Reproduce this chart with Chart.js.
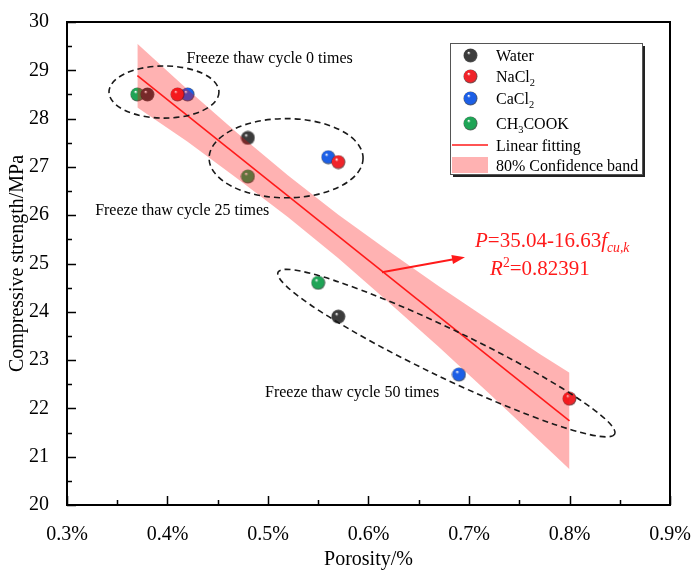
<!DOCTYPE html>
<html lang="en">
<head>
<meta charset="UTF-8">
<title>Compressive strength vs porosity</title>
<script src="https://cdn.jsdelivr.net/npm/chart.js"></script>
<style>
    body { margin: 0; background: #fff; }
    #box { width: 692px; height: 571px; }
</style>
</head>
<body>
<div id="box"><canvas id="chart" width="692" height="571"></canvas></div>
<script>
// measured values (porosity in %, strength in MPa)
const waterX = [0.38, 0.48, 0.57];
const waterY = [28.5, 27.6, 23.9];
const naclX = [0.41, 0.57, 0.80];
const naclY = [28.5, 27.1, 22.2];
const cacl2X = [0.42, 0.56, 0.69];
const cacl2Y = [28.5, 27.2, 22.7];
const ch3cookX = [0.37, 0.48, 0.55];
const ch3cookY = [28.5, 26.8, 24.6];

// linear fit and 80% confidence band
const fitX = [0.37, 0.80];
const fitY = [28.89, 21.74];
const bandX = [0.37, 0.42, 0.47, 0.52, 0.57, 0.62, 0.67, 0.72, 0.77, 0.80];
const bandUpper = [29.55, 28.60, 27.69, 26.82, 26.01, 25.26, 24.53, 23.83, 23.13, 22.74];
const bandLower = [28.23, 27.52, 26.75, 25.96, 25.11, 24.20, 23.27, 22.31, 21.33, 20.74];

const seriesColors = ['#3c3c3c', '#f0242a', '#1c5fe6', '#1fa456'];

const SERIF = "'Liberation Serif', 'Times New Roman', serif";
Chart.defaults.font.family = SERIF;
Chart.defaults.color = '#000';

function pts(xs, ys) { return xs.map((x, i) => ({ x: x, y: ys[i] })); }

// small shaded sphere used as marker
function sphere(color) {
    const c = document.createElement('canvas');
    c.width = 15; c.height = 15;
    const g = c.getContext('2d');
    const grad = g.createRadialGradient(5.5, 4.5, 0.3, 7.5, 7.5, 7.2);
    grad.addColorStop(0, '#ffffff');
    grad.addColorStop(0.22, color);
    grad.addColorStop(0.8, color);
    grad.addColorStop(1, 'rgba(0,0,0,0.6)');
    g.fillStyle = grad;
    g.beginPath(); g.arc(7.5, 7.5, 7, 0, Math.PI * 2); g.fill();
    return c;
}
const sphereImgs = seriesColors.map(sphere);

function scatterSet(label, xs, ys, i) {
    return {
        label: label, data: pts(xs, ys), order: 10,
        pointStyle: sphereImgs[i], pointRadius: 7,
        backgroundColor: seriesColors[i], borderColor: seriesColors[i]
    };
}

// draw text made of parts {t, it, sub, sup}
function richText(ctx, x, y, parts, size, color) {
    ctx.fillStyle = color;
    ctx.textBaseline = 'alphabetic';
    ctx.textAlign = 'left';
    parts.forEach(p => {
        const s = (p.sub || p.sup) ? size * 0.65 : size;
        ctx.font = (p.it ? 'italic ' : '') + s + 'px ' + SERIF;
        const dy = p.sub ? size * 0.25 : (p.sup ? -size * 0.4 : 0);
        ctx.fillText(p.t, x, y + dy);
        x += ctx.measureText(p.t).width;
    });
}

const decor = {
    id: 'decor',
    afterDraw(chart) {
        const ctx = chart.ctx;
        const xs = chart.scales.x, ys = chart.scales.y;
        const a = chart.chartArea;
        const px = v => xs.getPixelForValue(v);
        const py = v => ys.getPixelForValue(v);
        ctx.save();

        // frame and inward ticks
        ctx.strokeStyle = '#000';
        ctx.lineWidth = 2;
        ctx.strokeRect(a.left, a.top, a.right - a.left, a.bottom - a.top);
        ctx.lineWidth = 1.5;
        ctx.beginPath();
        for (let v = 0.3; v <= 0.9001; v += 0.05) {
            const major = Math.abs(Math.round(v * 10) - v * 10) < 1e-6;
            const x = Math.round(px(v)) + 0.5;
            ctx.moveTo(x, a.bottom); ctx.lineTo(x, a.bottom - (major ? 9 : 5));
        }
        for (let v = 20; v <= 30.001; v += 0.5) {
            const major = Math.abs(v - Math.round(v)) < 1e-6;
            const y = Math.round(py(v)) + 0.5;
            ctx.moveTo(a.left, y); ctx.lineTo(a.left + (major ? 9 : 5), y);
        }
        ctx.stroke();

        // dashed ellipses
        ctx.strokeStyle = '#1a1a1a';
        ctx.lineWidth = 1.6;
        ctx.setLineDash([6, 4]);
        const ell = (cx, cy, rx, ry, rot) => {
            ctx.beginPath();
            ctx.ellipse(cx, cy, rx, ry, rot, 0, Math.PI * 2);
            ctx.stroke();
        };
        ell(px(0.3965), py(28.55), px(0.4512) - px(0.3965), py(28.55) - py(29.09), 0);
        ell(px(0.518), py(27.18), px(0.5946) - px(0.518), py(27.18) - py(28.0), 0);
        // tilted ellipse given by the ends of its long axis
        const x1 = px(0.51), y1 = py(24.82), x2 = px(0.845), y2 = py(21.47);
        ell((x1 + x2) / 2, (y1 + y2) / 2, Math.hypot(x2 - x1, y2 - y1) / 2, 24, Math.atan2(y2 - y1, x2 - x1));
        ctx.setLineDash([]);

        // group captions
        ctx.font = '16px ' + SERIF;
        ctx.fillStyle = '#000';
        ctx.textAlign = 'left';
        ctx.textBaseline = 'alphabetic';
        ctx.fillText('Freeze thaw cycle 0 times', px(0.419), py(29.15));
        ctx.fillText('Freeze thaw cycle 25 times', px(0.328), py(26.0));
        ctx.fillText('Freeze thaw cycle 50 times', px(0.497), py(22.24));

        // arrow to the fitted equation
        const ax = px(0.6134), ay = py(24.82), bx = px(0.696), by = py(25.13);
        const ang = Math.atan2(by - ay, bx - ax);
        ctx.strokeStyle = '#ff1a1a';
        ctx.fillStyle = '#ff1a1a';
        ctx.lineWidth = 2;
        ctx.beginPath();
        ctx.moveTo(ax, ay);
        ctx.lineTo(bx - 10 * Math.cos(ang), by - 10 * Math.sin(ang));
        ctx.stroke();
        ctx.beginPath();
        ctx.moveTo(bx, by);
        ctx.lineTo(bx - 13 * Math.cos(ang) + 4.5 * Math.sin(ang), by - 13 * Math.sin(ang) - 4.5 * Math.cos(ang));
        ctx.lineTo(bx - 13 * Math.cos(ang) - 4.5 * Math.sin(ang), by - 13 * Math.sin(ang) + 4.5 * Math.cos(ang));
        ctx.closePath();
        ctx.fill();

        richText(ctx, px(0.706), py(25.34), [
            { t: 'P', it: true }, { t: '=35.04-16.63' }, { t: 'f', it: true }, { t: 'cu,k', it: true, sub: true }
        ], 21, '#ff1a1a');
        richText(ctx, px(0.721), py(24.76), [
            { t: 'R', it: true }, { t: '2', sup: true }, { t: '=0.82391' }
        ], 21, '#ff1a1a');

        // legend
        const L = 450, T = 43, W = 192, H = 131;
        ctx.fillStyle = '#222';
        ctx.fillRect(L + 3, T + 3, W, H);
        ctx.fillStyle = '#fff';
        ctx.fillRect(L, T, W, H);
        ctx.strokeStyle = '#555';
        ctx.lineWidth = 1;
        ctx.strokeRect(L + 0.5, T + 0.5, W, H);
        const rows = [55, 76, 98, 123, 145, 165];
        const labels = [
            [{ t: 'Water' }],
            [{ t: 'NaCl' }, { t: '2', sub: true }],
            [{ t: 'CaCl' }, { t: '2', sub: true }],
            [{ t: 'CH' }, { t: '3', sub: true }, { t: 'COOK' }],
            [{ t: 'Linear fitting' }],
            [{ t: '80% Confidence band' }]
        ];
        for (let i = 0; i < 4; i++) ctx.drawImage(sphereImgs[i], 463, rows[i] - 7);
        ctx.strokeStyle = '#ff1a1a';
        ctx.lineWidth = 1.5;
        ctx.beginPath(); ctx.moveTo(452, rows[4]); ctx.lineTo(488, rows[4]); ctx.stroke();
        ctx.fillStyle = 'rgba(255,0,0,0.3)';
        ctx.fillRect(452, 157, 36, 16);
        labels.forEach((parts, i) => richText(ctx, 496, rows[i] + 5.5, parts, 16, '#000'));

        ctx.restore();
    }
};

new Chart(document.getElementById('chart'), {
    type: 'scatter',
    data: {
        datasets: [
            scatterSet('Water', waterX, waterY, 0),
            scatterSet('NaCl2', naclX, naclY, 1),
            scatterSet('CaCl2', cacl2X, cacl2Y, 2),
            scatterSet('CH3COOK', ch3cookX, ch3cookY, 3),
            {
                label: 'band upper', data: pts(bandX, bandUpper), order: 5,
                showLine: true, pointRadius: 0, borderWidth: 0, borderColor: 'rgba(0,0,0,0)', fill: false
            },
            {
                label: '80% Confidence band', data: pts(bandX, bandLower), order: 5,
                showLine: true, pointRadius: 0, borderWidth: 0, borderColor: 'rgba(0,0,0,0)',
                fill: '-1', backgroundColor: 'rgba(255,0,0,0.3)'
            },
            {
                label: 'Linear fitting', data: pts(fitX, fitY), order: 1,
                showLine: true, pointRadius: 0, borderWidth: 1.6, borderColor: '#ff1a1a'
            }
        ]
    },
    options: {
        responsive: false,
        animation: false,
        layout: { padding: { top: 22, right: 22, left: 0, bottom: 0 } },
        plugins: { legend: { display: false }, tooltip: { enabled: false } },
        scales: {
            x: {
                type: 'linear', min: 0.3, max: 0.9,
                grid: { display: false },
                border: { display: true, color: '#000', width: 2 },
                ticks: {
                    stepSize: 0.1, padding: 10, font: { size: 20 },
                    callback: v => v.toFixed(1) + '%'
                },
                title: { display: true, text: 'Porosity/%', font: { size: 20, lineHeight: 1 }, padding: { top: 0, bottom: 1 } },
                afterFit: s => { s.height = 66; s.paddingLeft = 0; s.paddingRight = 0; }
            },
            y: {
                min: 20, max: 30,
                grid: { display: false },
                border: { display: true, color: '#000', width: 2 },
                ticks: { stepSize: 1, padding: 10, font: { size: 20 } },
                title: { display: true, text: 'Compressive strength/MPa', font: { size: 20, lineHeight: 1.2 }, padding: { top: 6, bottom: 0 } },
                afterFit: s => { s.width = 67; s.paddingTop = 0; s.paddingBottom = 0; }
            }
        }
    },
    plugins: [decor]
});
</script>
</body>
</html>
